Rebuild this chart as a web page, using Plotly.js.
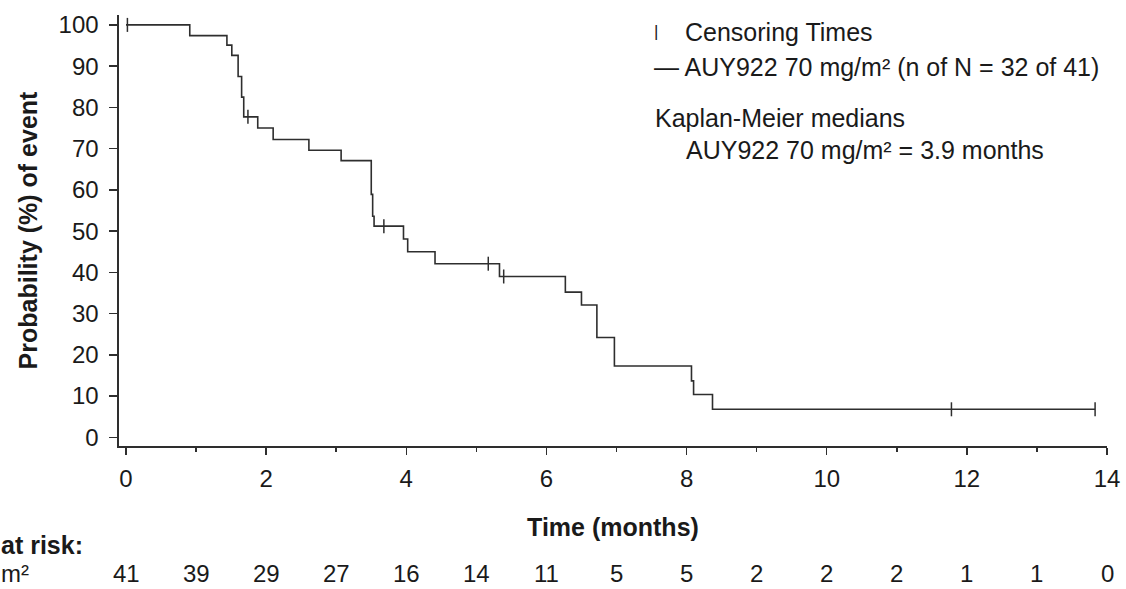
<!DOCTYPE html>
<html>
<head>
<meta charset="utf-8">
<script src="https://cdn.plot.ly/plotly-3.0.1.min.js"></script>
<style>
html,body{margin:0;padding:0;background:#fff;}
#chart{width:1126px;height:589px;}
</style>
</head>
<body>
<div id="chart"></div>
<script>
// Kaplan-Meier step curve (time in months, probability %)
const kmTimes = [0, 0.91, 1.44, 1.51, 1.60, 1.65, 1.68, 1.88, 2.10, 2.61, 3.07, 3.50, 3.52, 3.54, 3.96, 4.02, 4.41, 5.33, 6.27, 6.50, 6.72, 6.97, 8.07, 8.10, 8.37, 13.83];
const kmProb  = [100, 97.4, 95.1, 92.6, 87.5, 82.5, 77.7, 75.0, 72.2, 69.6, 67.1, 58.9, 53.6, 51.2, 48.1, 45.0, 42.1, 39.0, 35.2, 32.1, 24.2, 17.3, 13.7, 10.4, 6.8, 6.8];
// Censoring times
const censorTimes = [0.02, 1.74, 3.68, 5.17, 5.39, 11.78, 13.83];
const censorProb  = [100, 77.7, 51.2, 42.1, 39.0, 6.8, 6.8];
// Number at risk
const riskMonths = [0,1,2,3,4,5,6,7,8,9,10,11,12,13,14];
const atRisk     = [41,39,29,27,16,14,11,5,5,2,2,2,1,1,0];
const yTicks = [0,10,20,30,40,50,60,70,80,90,100];
const xTicks = [0,2,4,6,8,10,12,14];

const INK = '#2e2e2e';
const FONT = 'Liberation Sans, Arial, Helvetica, sans-serif';

const traces = [
  {x: kmTimes, y: kmProb, mode: 'lines', line: {shape: 'hv', color: INK, width: 1.6}, hoverinfo: 'skip', showlegend: false},
  {x: censorTimes, y: censorProb, mode: 'markers', marker: {symbol: 'line-ns', size: 10, color: INK, line: {width: 1.5, color: INK}}, hoverinfo: 'skip', showlegend: false}
];

const RISK_Y = -0.296;
const ann = [];
riskMonths.forEach((m, i) => {
  ann.push({x: m, xref: 'x', y: RISK_Y, yref: 'paper', text: String(atRisk[i]), showarrow: false,
    xanchor: 'center', yanchor: 'middle', borderpad: 0, font: {size: 24, color: '#1a1a1a', family: FONT}});
});
ann.push({x: -0.1206, xref: 'paper', y: -0.2297, yref: 'paper', text: '<b>at risk:</b>', showarrow: false,
  xanchor: 'left', yanchor: 'middle', borderpad: 0, font: {size: 25, color: '#1a1a1a', family: FONT}});
ann.push({x: -0.1206, xref: 'paper', y: RISK_Y, yref: 'paper', text: 'm²', showarrow: false,
  xanchor: 'left', yanchor: 'middle', borderpad: 0, font: {size: 24, color: '#1a1a1a', family: FONT}});
// legend block
ann.push({x: 0.539, xref: 'paper', y: 0.961, yref: 'paper', text: '|', showarrow: false,
  xanchor: 'left', yanchor: 'middle', font: {size: 17, color: '#1a1a1a', family: FONT}});
ann.push({x: 0.571, xref: 'paper', y: 0.961, yref: 'paper', text: 'Censoring Times', showarrow: false,
  xanchor: 'left', yanchor: 'middle', font: {size: 25, color: '#1a1a1a', family: FONT}});
ann.push({x: 0.539, xref: 'paper', y: 0.880, yref: 'paper', text: '— AUY922 70 mg/m² (n of N = 32 of 41)', showarrow: false,
  xanchor: 'left', yanchor: 'middle', font: {size: 25, color: '#1a1a1a', family: FONT}});
ann.push({x: 0.540, xref: 'paper', y: 0.761, yref: 'paper', text: 'Kaplan-Meier medians', showarrow: false,
  xanchor: 'left', yanchor: 'middle', font: {size: 25, color: '#1a1a1a', family: FONT}});
ann.push({x: 0.572, xref: 'paper', y: 0.687, yref: 'paper', text: 'AUY922 70 mg/m² = 3.9 months', showarrow: false,
  xanchor: 'left', yanchor: 'middle', font: {size: 25, color: '#1a1a1a', family: FONT}});

const layout = {
  width: 1126, height: 589,
  margin: {l: 119, r: 19, t: 15, b: 143},
  paper_bgcolor: '#fff', plot_bgcolor: '#fff',
  font: {family: FONT, color: '#1a1a1a', size: 24},
  showlegend: false,
  xaxis: {
    range: [-0.1, 14.0], showgrid: false, zeroline: false,
    showline: true, linecolor: INK, linewidth: 1.6,
    tickvals: xTicks, ticktext: xTicks.map(String), ticks: 'outside', ticklen: 7, tickwidth: 1.5, tickcolor: INK,
    ticklabelstandoff: 4,
    minor: {dtick: 1, tick0: 0, ticks: 'outside', ticklen: 4, tickwidth: 1.5, tickcolor: INK, showgrid: false},
    tickfont: {size: 24, family: FONT, color: '#1a1a1a'},
    title: {text: '<b>Time (months)</b>', font: {size: 25, family: FONT, color: '#1a1a1a'}, standoff: 27},
    automargin: false, fixedrange: true
  },
  yaxis: {
    range: [-2.1, 102.4], showgrid: false, zeroline: false,
    showline: true, linecolor: INK, linewidth: 1.6,
    tickvals: yTicks, ticktext: yTicks.map(String), ticks: 'outside', ticklen: 8, tickwidth: 1.5, tickcolor: INK,
    ticklabelstandoff: 6,
    tickfont: {size: 24, family: FONT, color: '#1a1a1a'},
    title: {text: '<b>Probability (%) of event</b>', font: {size: 25, family: FONT, color: '#1a1a1a'}, standoff: 14},
    automargin: false, fixedrange: true
  },
  annotations: ann
};

Plotly.newPlot('chart', traces, layout, {displayModeBar: false, staticPlot: true});
</script>
</body>
</html>
